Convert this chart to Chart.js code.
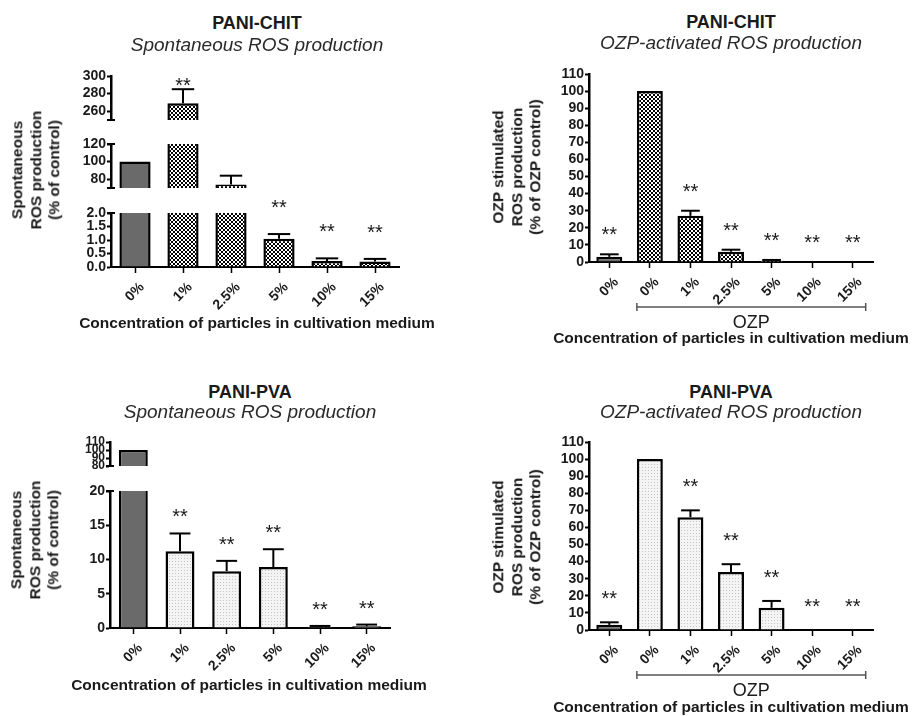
<!DOCTYPE html>
<html>
<head>
<meta charset="utf-8">
<script src="https://cdn.jsdelivr.net/npm/chart.js@4.4.1/dist/chart.umd.min.js"></script>
<style>
body { margin: 0; background: #fff; }
#figure { position: relative; width: 912px; height: 716px; overflow: hidden;
  font-family: 'Liberation Sans', Arial, sans-serif; color: #1a1a1a; }
#figure canvas { position: absolute; }
.txt { position: absolute; white-space: nowrap; transform: translate(-50%, -50%); }
.ttl { font-weight: bold; font-size: 18px; }
.sub { font-style: italic; font-size: 19px; color: #2a2a2a; }
.xt { font-weight: bold; font-size: 15.5px; }
.yt { font-weight: bold; font-size: 15.5px; line-height: 18.5px; text-align: center;
  transform: translate(-50%, -50%) rotate(-90deg); }
</style>
</head>
<body>
<div id="figure"></div>
<script>
// categories
const concLabels = ['0%', '1%', '2.5%', '5%', '10%', '15%'];
const ozpLabels = ['0%', '0%', '1%', '2.5%', '5%', '10%', '15%'];

// PANI-CHIT, spontaneous (mean, SEM, significance)
const chitSpontMean = [100, 269, 74, 1.05, 0.22, 0.2];
const chitSpontSem = [0, 16, 10, 0.17, 0.1, 0.1];
const chitSpontSig = ['', '**', '', '**', '**', '**'];

// PANI-CHIT, OZP-activated
const chitOzpMean = [3, 100, 27, 6, 0.8, 0, 0];
const chitOzpSem = [1.5, 0, 3, 1.2, 0.4, 0, 0];
const chitOzpSig = ['**', '', '**', '**', '**', '**', '**'];

// PANI-PVA, spontaneous
const pvaSpontMean = [100, 11.2, 8.3, 8.9, 0.15, 0.25];
const pvaSpontSem = [0, 2.6, 1.5, 2.6, 0.15, 0.25];
const pvaSpontSig = ['', '**', '**', '**', '**', '**'];

// PANI-PVA, OZP-activated
const pvaOzpMean = [3, 100, 66, 34, 13, 0, 0];
const pvaOzpSem = [1.5, 0, 4, 4.5, 4, 0, 0];
const pvaOzpSig = ['**', '', '**', '**', '**', '**', '**'];

// tick labels (broken axes are split in segments)
const chitSpontTicksTop = [260, 280, 300];
const chitSpontTicksMid = [80, 100, 120];
const chitSpontTicksLow = [0, 0.5, 1.0, 1.5, 2.0];
const pvaSpontTicksTop = [80, 90, 100, 110];
const pvaSpontTicksLow = [0, 5, 10, 15, 20];
const ozpTicks = [0, 10, 20, 30, 40, 50, 60, 70, 80, 90, 100, 110];

const AXIS_W = 50, PAD_T = 24, PAD_R = 16, PAD_B = 10;
const fig = document.getElementById('figure');

Chart.defaults.font.family = "'Liberation Sans', Arial, sans-serif";
Chart.defaults.color = '#1a1a1a';

function makePattern(size, draw) {
    const c = document.createElement('canvas');
    c.width = c.height = size;
    const g = c.getContext('2d');
    draw(g);
    return g.createPattern(c, 'repeat');
}

const checker = makePattern(4, function (g) {
    g.fillStyle = '#000';
    g.fillRect(0, 0, 4, 4);
    g.fillStyle = '#fff';
    g.fillRect(0, 0, 2, 2);
    g.fillRect(2, 2, 2, 2);
});
const dotted = makePattern(3, function (g) {
    g.fillStyle = '#f4f4f4';
    g.fillRect(0, 0, 3, 3);
    g.fillStyle = '#c4c4c4';
    g.fillRect(1, 1, 1, 1);
});
const solidGrey = '#6a6a6a';

function line(ctx, x0, y0, x1, y1) {
    ctx.beginPath();
    ctx.moveTo(x0, y0);
    ctx.lineTo(x1, y1);
    ctx.stroke();
}

// whiskers, stars, axis break caps and the OZP bracket
const extrasPlugin = {
    id: 'extras',
    afterDraw(chart, args, o) {
        const ctx = chart.ctx, area = chart.chartArea;
        const xs = chart.scales.x, ys = chart.scales.y;
        const step = xs.getPixelForValue(1) - xs.getPixelForValue(0);
        const half = step * o.barPct / 2;
        ctx.save();
        ctx.strokeStyle = '#000';
        ctx.lineWidth = 2;
        o.mean.forEach(function (v, i) {
            const s = o.sem[i];
            const x = xs.getPixelForValue(i);
            if (s && v >= ys.min && v <= ys.max) {
                const y0 = ys.getPixelForValue(v), y1 = ys.getPixelForValue(v + s);
                line(ctx, x, y0, x, y1);
                line(ctx, x - half * 0.72, y1, x + half * 0.72, y1);
            }
            const top = v + s;
            if (o.sig[i] && top >= ys.min && top <= ys.max) {
                let y = ys.getPixelForValue(top) - o.starOffset;
                if (o.clampTop) y = Math.max(y, area.top + 5);
                ctx.fillStyle = '#1a1a1a';
                ctx.font = '20px "Liberation Sans", Arial, sans-serif';
                ctx.textAlign = 'center';
                ctx.textBaseline = 'alphabetic';
                ctx.fillText(o.sig[i], x, y + 11);
            }
        });
        if (o.capTop) line(ctx, area.left - 4, area.top, area.left + 4, area.top);
        if (o.capBottom) line(ctx, area.left - 4, area.bottom, area.left + 4, area.bottom);
        if (o.bracket) {
            const x0 = xs.getPixelForValue(o.bracket[0]) - half;
            const x1 = xs.getPixelForValue(o.bracket[1]) + half;
            const y = area.bottom + 45;
            ctx.strokeStyle = '#555';
            ctx.lineWidth = 1.5;
            line(ctx, x0, y, x1, y);
            line(ctx, x0, y - 4, x0, y + 4);
            line(ctx, x1, y - 4, x1, y + 4);
            ctx.fillStyle = '#1a1a1a';
            ctx.font = '18px "Liberation Sans", Arial, sans-serif';
            ctx.textAlign = 'center';
            ctx.textBaseline = 'middle';
            ctx.fillText('OZP', (x0 + x1) / 2, y + 16);
        }
        ctx.restore();
    }
};

function segment(p) {
    const xh = p.showX ? (p.bracket ? 80 : 48) : PAD_B;
    const cv = document.createElement('canvas');
    cv.width = AXIS_W + p.width + PAD_R;
    cv.height = PAD_T + p.height + xh;
    cv.style.left = (p.axisX - AXIS_W) + 'px';
    cv.style.top = (p.top - PAD_T) + 'px';
    fig.appendChild(cv);

    const data = p.mean.map(function (v) {
        return v > p.min ? [p.min, Math.min(v, p.max)] : null;
    });

    new Chart(cv, {
        type: 'bar',
        data: {
            labels: p.labels,
            datasets: [{
                data: data,
                backgroundColor: p.fills,
                borderColor: '#000',
                borderSkipped: false,
                borderWidth: function (c) {
                    const v = p.mean[c.dataIndex];
                    return { top: v <= p.max ? 2.5 : 0, right: 2.5, bottom: 0, left: 2.5 };
                },
                barPercentage: p.barPct,
                categoryPercentage: 1,
            }],
        },
        options: {
            responsive: false,
            animation: false,
            devicePixelRatio: 1,
            layout: { padding: { top: PAD_T, right: PAD_R, bottom: p.showX ? 0 : PAD_B, left: 0 } },
            plugins: {
                legend: { display: false },
                tooltip: { enabled: false },
                extras: {
                    mean: p.mean, sem: p.sem, sig: p.sig, barPct: p.barPct,
                    starOffset: p.starOffset, clampTop: !!p.clampTop,
                    capTop: !!p.capTop, capBottom: !!p.capBottom, bracket: p.bracket || null,
                },
            },
            scales: {
                x: {
                    display: !!p.showX,
                    grid: { drawOnChartArea: false, offset: false, tickLength: 6, tickColor: '#000', tickWidth: 1.5 },
                    border: { color: '#000', width: 2 },
                    ticks: { autoSkip: false, minRotation: 45, maxRotation: 45, padding: 6, labelOffset: 7,
                        font: { weight: 'bold', size: 14 } },
                    afterFit: function (s) { s.height = xh; },
                },
                y: {
                    min: p.min,
                    max: p.max,
                    afterBuildTicks: function (s) {
                        s.ticks = p.ticks.map(function (v) { return { value: v }; });
                    },
                    grid: { drawOnChartArea: false, tickLength: 4, tickColor: '#000', tickWidth: 2 },
                    border: { color: '#000', width: 2.5 },
                    ticks: { autoSkip: false, padding: 1, font: { weight: 'bold', size: p.tickSize || 14 },
                        callback: p.fmt || function (v) { return v; } },
                    afterFit: function (s) { s.width = AXIS_W; },
                },
            },
        },
        plugins: [extrasPlugin],
    });
}

function placeText(cls, html, x, y) {
    const d = document.createElement('div');
    d.className = 'txt ' + cls;
    d.innerHTML = html;
    d.style.left = x + 'px';
    d.style.top = y + 'px';
    fig.appendChild(d);
}

const xTitle = 'Concentration of particles in cultivation medium';
const spontY = 'Spontaneous<br>ROS production<br>(% of control)';
const ozpY = 'OZP stimulated<br>ROS production<br>(% of OZP control)';

// ---- PANI-CHIT spontaneous (three segments) ----
const chitFills = concLabels.map(function (l, i) { return i === 0 ? solidGrey : checker; });
const chitSpont = { labels: concLabels, mean: chitSpontMean, sem: chitSpontSem, sig: chitSpontSig,
    fills: chitFills, axisX: 111, width: 288, barPct: 0.65, starOffset: 31 };
segment(Object.assign({}, chitSpont, { top: 76, height: 54, min: 250, max: 300,
    ticks: chitSpontTicksTop, capBottom: true, clampTop: true }));
segment(Object.assign({}, chitSpont, { top: 144, height: 54, min: 70, max: 120,
    ticks: chitSpontTicksMid, capTop: true, capBottom: true }));
segment(Object.assign({}, chitSpont, { top: 213, height: 54, min: 0, max: 2,
    ticks: chitSpontTicksLow, capTop: true, showX: true,
    fmt: function (v) { return v.toFixed(1); } }));
placeText('ttl', 'PANI-CHIT', 257, 23);
placeText('sub', 'Spontaneous ROS production', 257, 45);
placeText('yt', spontY, 36, 170);
placeText('xt', xTitle, 257, 323);

// ---- PANI-CHIT OZP-activated ----
segment({ labels: ozpLabels, mean: chitOzpMean, sem: chitOzpSem, sig: chitOzpSig,
    fills: ozpLabels.map(function (l, i) { return i === 0 ? solidGrey : checker; }),
    axisX: 589, width: 284, barPct: 0.64, starOffset: 24,
    top: 74, height: 188, min: 0, max: 110, ticks: ozpTicks, showX: true, bracket: [1, 6] });
placeText('ttl', 'PANI-CHIT', 731, 22);
placeText('sub', 'OZP-activated ROS production', 731, 43);
placeText('yt', ozpY, 517, 167);
placeText('xt', xTitle, 731, 338);

// ---- PANI-PVA spontaneous (two segments) ----
const pvaFills = concLabels.map(function (l, i) { return i === 0 ? solidGrey : dotted; });
const pvaSpont = { labels: concLabels, mean: pvaSpontMean, sem: pvaSpontSem, sig: pvaSpontSig,
    fills: pvaFills, axisX: 110, width: 280, barPct: 0.62, starOffset: 21 };
segment(Object.assign({}, pvaSpont, { top: 442, height: 34, min: 80, max: 110, tickSize: 12,
    ticks: pvaSpontTicksTop, capBottom: true, clampTop: true }));
segment(Object.assign({}, pvaSpont, { top: 491, height: 137, min: 0, max: 20,
    ticks: pvaSpontTicksLow, capTop: true, showX: true }));
placeText('ttl', 'PANI-PVA', 250, 392);
placeText('sub', 'Spontaneous ROS production', 250, 412);
placeText('yt', spontY, 35, 540);
placeText('xt', xTitle, 249, 685);

// ---- PANI-PVA OZP-activated ----
segment({ labels: ozpLabels, mean: pvaOzpMean, sem: pvaOzpSem, sig: pvaOzpSig,
    fills: ozpLabels.map(function (l, i) { return i === 0 ? solidGrey : dotted; }),
    axisX: 589, width: 284, barPct: 0.64, starOffset: 28,
    top: 442, height: 188, min: 0, max: 110, ticks: ozpTicks, showX: true, bracket: [1, 6] });
placeText('ttl', 'PANI-PVA', 731, 392);
placeText('sub', 'OZP-activated ROS production', 731, 412);
placeText('yt', ozpY, 517, 537);
placeText('xt', xTitle, 731, 707);
</script>
</body>
</html>
